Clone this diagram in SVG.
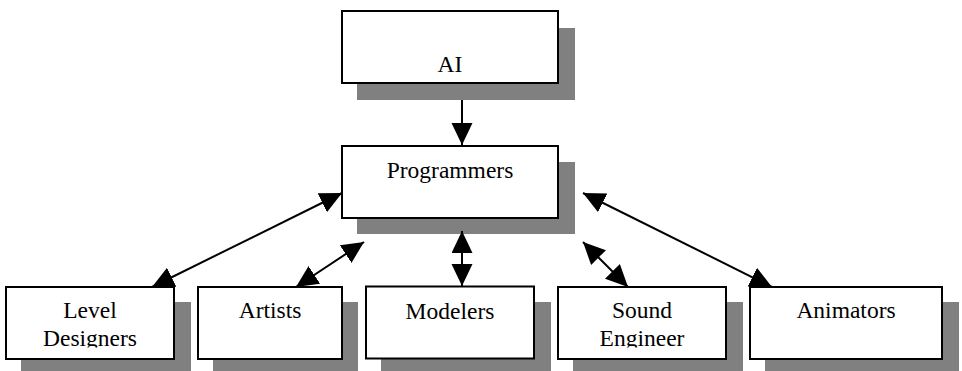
<svg xmlns="http://www.w3.org/2000/svg" width="962" height="371" viewBox="0 0 962 371">
<style>
.box{fill:#fff;stroke:#000;stroke-width:2}
.sh{fill:#808080}
.t{font-family:"Liberation Serif","Times New Roman",serif;font-size:23.5px;fill:#000;text-anchor:middle}
.c{stroke:#000;stroke-width:2;fill:none}
</style>
<defs>
<marker id="ah" markerUnits="userSpaceOnUse" markerWidth="24" markerHeight="22" refX="22" refY="10.5" orient="auto-start-reverse" viewBox="0 0 24 22">
<path d="M0,0 L22,10.5 L0,21 Z" fill="#000"/>
</marker>
<clipPath id="clipL"><rect x="6" y="287" width="168" height="60.5"/></clipPath>
<clipPath id="clipS"><rect x="558" y="287" width="168" height="60.5"/></clipPath>
</defs>
<rect width="962" height="371" fill="#fff"/>
<g id="node-ai">
<rect class="sh" x="357" y="28" width="218" height="72"/>
<rect class="box" x="342" y="11" width="216" height="72"/>
<text class="t" x="450" y="72">AI</text>
</g>
<g id="node-programmers">
<rect class="sh" x="357" y="162" width="218" height="72"/>
<rect class="box" x="342" y="146" width="216" height="72"/>
<text class="t" x="450" y="178">Programmers</text>
</g>
<g id="node-level">
<rect class="sh" x="21" y="302" width="170" height="69"/>
<rect class="box" x="6" y="287" width="168" height="72"/>
<g clip-path="url(#clipL)">
<text class="t" x="90" y="318">Level</text>
<text class="t" x="90" y="346">Designers</text>
</g>
</g>
<g id="node-artists">
<rect class="sh" x="213" y="302" width="145" height="69"/>
<rect class="box" x="198" y="287" width="144" height="72"/>
<text class="t" x="270" y="318">Artists</text>
</g>
<g id="node-modelers">
<rect class="sh" x="381" y="302" width="170" height="69"/>
<rect class="box" x="366" y="286.5" width="168" height="72"/>
<text class="t" x="450" y="319">Modelers</text>
</g>
<g id="node-sound">
<rect class="sh" x="573" y="302" width="170" height="69"/>
<rect class="box" x="558" y="287" width="168" height="72"/>
<g clip-path="url(#clipS)">
<text class="t" x="642" y="318">Sound</text>
<text class="t" x="642" y="346">Engineer</text>
</g>
</g>
<g id="node-animators">
<rect class="sh" x="765" y="302" width="194" height="69"/>
<rect class="box" x="750" y="287" width="192" height="72"/>
<text class="t" x="846" y="318">Animators</text>
</g>
<g id="connectors">
<line class="c" x1="462" y1="100" x2="462" y2="145" marker-end="url(#ah)"/>
<line class="c" x1="342" y1="193" x2="152" y2="287" marker-start="url(#ah)" marker-end="url(#ah)"/>
<line class="c" x1="364" y1="242" x2="296" y2="287" marker-start="url(#ah)" marker-end="url(#ah)"/>
<line class="c" x1="462" y1="231" x2="462" y2="286" marker-start="url(#ah)" marker-end="url(#ah)"/>
<line class="c" x1="583" y1="242" x2="628" y2="287" marker-start="url(#ah)" marker-end="url(#ah)"/>
<line class="c" x1="583" y1="193" x2="772" y2="287" marker-start="url(#ah)" marker-end="url(#ah)"/>
</g>
</svg>
